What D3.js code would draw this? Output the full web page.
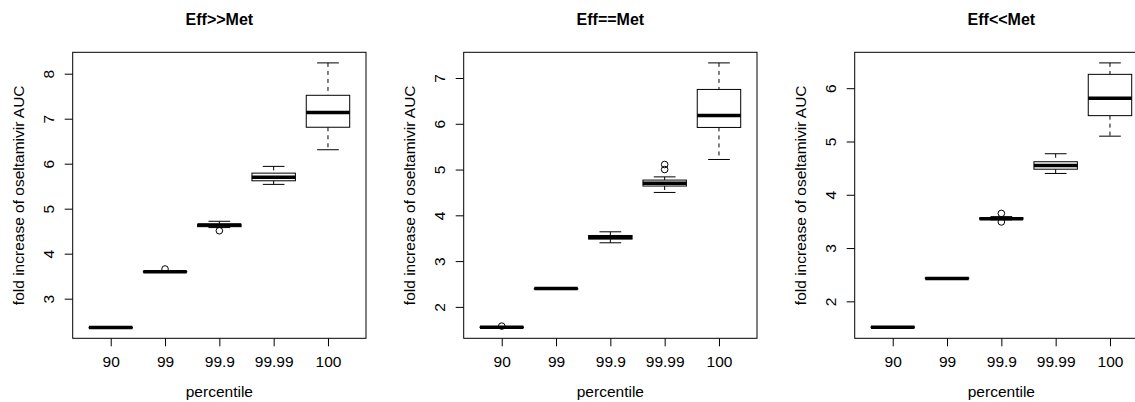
<!DOCTYPE html>
<html>
<head>
<meta charset="utf-8">
<script src="https://cdn.jsdelivr.net/npm/d3@7"></script>
<style>
  body { margin: 0; background: #fff; }
  svg { display: block; }
  text { font-family: "Liberation Sans", Arial, Helvetica, sans-serif; fill: #000; }
</style>
</head>
<body>
<svg id="chart" width="1135" height="402"></svg>
<script>
// categories on the x axis
var categories = ['90', '99', '99.9', '99.99', '100'];
var titles = ['Eff>>Met', 'Eff==Met', 'Eff<<Met'];

// box stats per category: [lower whisker, q1, median, q3, upper whisker]
var effGtMet = [
    [2.355, 2.358, 2.36, 2.362, 2.365],
    [3.59, 3.595, 3.60, 3.605, 3.61],
    [4.58, 4.60, 4.635, 4.655, 4.72],
    [5.54, 5.62, 5.70, 5.79, 5.94],
    [6.31, 6.81, 7.14, 7.52, 8.24]
];
var effGtMetOutliers = [[], [3.66], [4.51], [], []];

var effEqMet = [
    [1.545, 1.55, 1.555, 1.56, 1.565],
    [2.395, 2.398, 2.40, 2.402, 2.405],
    [3.40, 3.48, 3.52, 3.56, 3.64],
    [4.50, 4.64, 4.70, 4.77, 4.84],
    [5.22, 5.92, 6.18, 6.75, 7.33]
];
var effEqMetOutliers = [[1.58], [], [], [5.00, 5.11], []];

var effLtMet = [
    [1.505, 1.51, 1.515, 1.52, 1.525],
    [2.42, 2.425, 2.43, 2.44, 2.445],
    [3.53, 3.545, 3.55, 3.565, 3.59],
    [4.40, 4.48, 4.55, 4.62, 4.77],
    [5.10, 5.485, 5.81, 6.26, 6.475]
];
var effLtMetOutliers = [[], [], [3.49, 3.65], [], []];

var panels = [
    { title: titles[0], stats: effGtMet, outliers: effGtMetOutliers },
    { title: titles[1], stats: effEqMet, outliers: effEqMetOutliers },
    { title: titles[2], stats: effLtMet, outliers: effLtMetOutliers }
];

var svg = d3.select('#chart');

var panelWidth = 391,
    plotLeft = 72.7,
    plotWidth = 293.3,
    plotTop = 52.3,
    plotBottom = 338.3,
    tickLen = 8;

panels.forEach(function (p, pi) {
    var g = svg.append('g')
        .attr('class', 'panel')
        .attr('transform', 'translate(' + (pi * panelWidth) + ',0)');

    var x = d3.scalePoint()
        .domain(categories)
        .range([plotLeft, plotLeft + plotWidth])
        .padding(0.7);
    var boxW = x.step() * 0.8;

    // R style range: data extent extended by 4%
    var all = [];
    p.stats.forEach(function (s) { all = all.concat(s); });
    p.outliers.forEach(function (o) { all = all.concat(o); });
    var lo = d3.min(all), hi = d3.max(all), pad = (hi - lo) * 0.04;
    var y = d3.scaleLinear()
        .domain([lo - pad, hi + pad])
        .range([plotBottom, plotTop]);

    var yTicks = d3.range(Math.ceil(lo - pad), Math.floor(hi + pad) + 1);

    // x axis
    var xAxis = g.append('g')
        .attr('transform', 'translate(0,' + plotBottom + ')')
        .call(d3.axisBottom(x).tickSize(tickLen).tickPadding(0));
    xAxis.select('.domain').remove();
    xAxis.selectAll('line').attr('stroke', '#000');
    xAxis.selectAll('text')
        .attr('y', 29)
        .attr('dy', 0)
        .style('font-size', '15.5px');

    // y axis
    var yAxis = g.append('g')
        .attr('transform', 'translate(' + plotLeft + ',0)')
        .call(d3.axisLeft(y).tickValues(yTicks).tickSize(tickLen).tickFormat(d3.format('d')));
    yAxis.select('.domain').remove();
    yAxis.selectAll('line').attr('stroke', '#000');
    yAxis.selectAll('text')
        .attr('transform', 'rotate(-90)')
        .attr('x', 0)
        .attr('y', -19)
        .attr('dy', 0)
        .attr('text-anchor', 'middle')
        .style('font-size', '15.5px');

    // plot frame
    g.append('rect')
        .attr('x', plotLeft)
        .attr('y', plotTop)
        .attr('width', plotWidth)
        .attr('height', plotBottom - plotTop)
        .attr('fill', 'none')
        .attr('stroke', '#000')
        .attr('stroke-width', 1);

    var boxes = g.selectAll('.box')
        .data(p.stats)
        .enter().append('g')
        .attr('class', 'box')
        .attr('transform', function (d, i) {
            return 'translate(' + x(categories[i]) + ',0)';
        });

    // dashed whiskers
    boxes.append('line')
        .attr('x1', 0).attr('x2', 0)
        .attr('y1', function (d) { return y(d[4]); })
        .attr('y2', function (d) { return y(d[3]); })
        .attr('stroke', '#000')
        .attr('stroke-dasharray', '4,4');
    boxes.append('line')
        .attr('x1', 0).attr('x2', 0)
        .attr('y1', function (d) { return y(d[1]); })
        .attr('y2', function (d) { return y(d[0]); })
        .attr('stroke', '#000')
        .attr('stroke-dasharray', '4,4');

    // staples
    boxes.append('line')
        .attr('x1', -boxW / 4).attr('x2', boxW / 4)
        .attr('y1', function (d) { return y(d[4]); })
        .attr('y2', function (d) { return y(d[4]); })
        .attr('stroke', '#000');
    boxes.append('line')
        .attr('x1', -boxW / 4).attr('x2', boxW / 4)
        .attr('y1', function (d) { return y(d[0]); })
        .attr('y2', function (d) { return y(d[0]); })
        .attr('stroke', '#000');

    // box
    boxes.append('rect')
        .attr('x', -boxW / 2)
        .attr('width', boxW)
        .attr('y', function (d) { return y(d[3]); })
        .attr('height', function (d) { return Math.max(0.5, y(d[1]) - y(d[3])); })
        .attr('fill', '#fff')
        .attr('stroke', '#000')
        .attr('stroke-width', 1);

    // median
    boxes.append('line')
        .attr('x1', -boxW / 2).attr('x2', boxW / 2)
        .attr('y1', function (d) { return y(d[2]); })
        .attr('y2', function (d) { return y(d[2]); })
        .attr('stroke', '#000')
        .attr('stroke-width', 3.5);

    // outliers
    boxes.each(function (d, i) {
        d3.select(this).selectAll('circle')
            .data(p.outliers[i])
            .enter().append('circle')
            .attr('cx', 0)
            .attr('cy', function (v) { return y(v); })
            .attr('r', 3.3)
            .attr('fill', 'none')
            .attr('stroke', '#000');
    });

    // titles
    var cx = plotLeft + plotWidth / 2;
    g.append('text')
        .attr('x', cx)
        .attr('y', 25)
        .attr('text-anchor', 'middle')
        .style('font-size', '16px')
        .style('font-weight', 'bold')
        .text(p.title);

    g.append('text')
        .attr('x', cx)
        .attr('y', 397)
        .attr('text-anchor', 'middle')
        .style('font-size', '15.5px')
        .text('percentile');

    g.append('text')
        .attr('transform', 'translate(' + (plotLeft - 48.5) + ',' + ((plotTop + plotBottom) / 2) + ') rotate(-90)')
        .attr('text-anchor', 'middle')
        .style('font-size', '15.5px')
        .text('fold increase of oseltamivir AUC');
});
</script>
</body>
</html>
